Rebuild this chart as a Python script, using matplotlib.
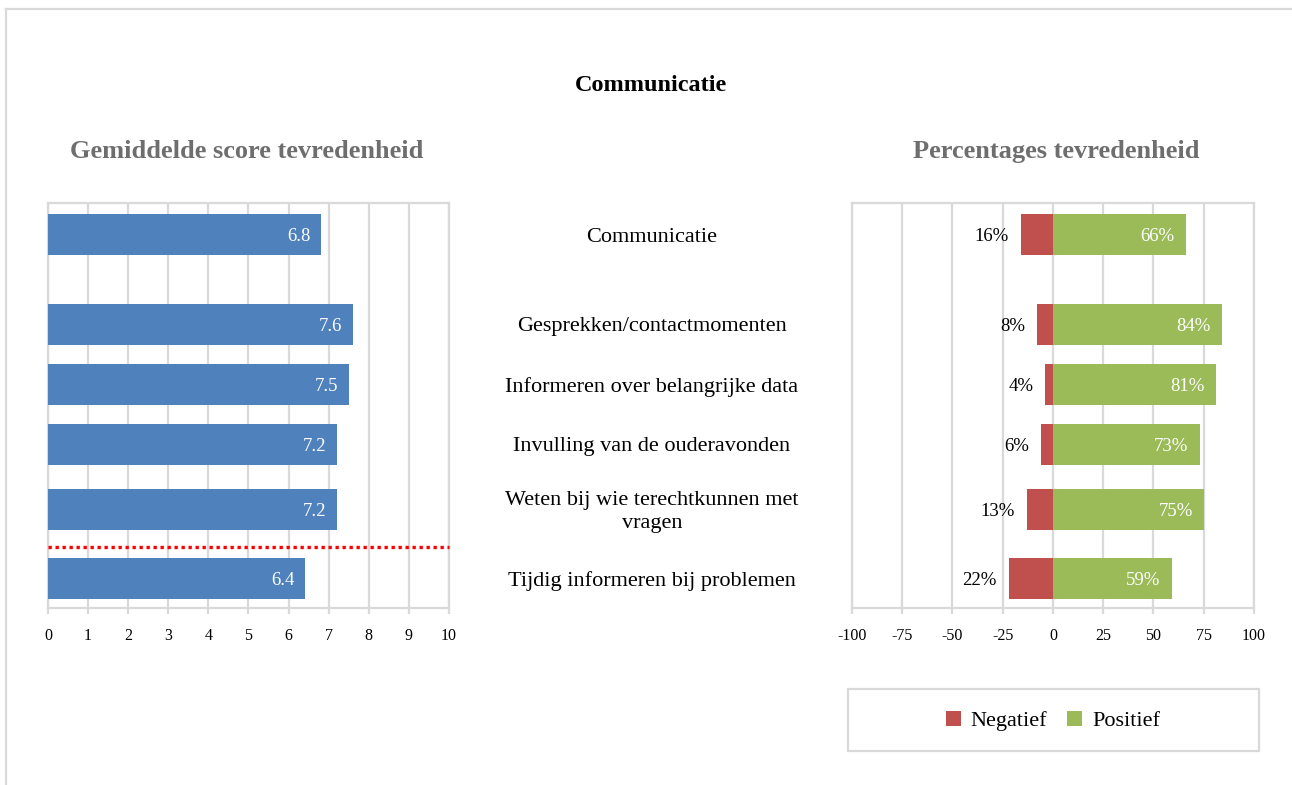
import numpy as np
import matplotlib
matplotlib.use('Agg')
import matplotlib.pyplot as plt
import matplotlib.transforms as mtransforms
from matplotlib.patches import Patch, Rectangle
from matplotlib.lines import Line2D

plt.rcParams['font.family'] = ['Liberation Serif', 'DejaVu Serif']
plt.rcParams['axes.unicode_minus'] = False

# data
items = ['Communicatie',
         'Gesprekken/contactmomenten',
         'Informeren over belangrijke data',
         'Invulling van de ouderavonden',
         'Weten bij wie terechtkunnen met\nvragen',
         'Tijdig informeren bij problemen']
scores = [6.8, 7.6, 7.5, 7.2, 7.2, 6.4]
negatief = [16, 8, 4, 6, 13, 22]
positief = [66, 84, 81, 73, 75, 59]
score_ticks = list(range(0, 11))
pct_ticks = [-100, -75, -50, -25, 0, 25, 50, 75, 100]

# layout (rows in pixel units from the top of the figure)
W, H = 1292, 785
row_y = [234.5, 324.5, 384.5, 444.5, 509.5, 578.5]
bar_h = 41
ax_top, ax_bot = 203, 608
sep_y = 546.7

blue = '#4f81bd'
red = '#c0504d'
green = '#9bbb59'
grid_c = '#d9d9d9'
sub_c = '#6e6e6e'

fig = plt.figure(figsize=(W / 100, H / 100), dpi=100)
fig.patch.set_facecolor('white')


def frac_x(px):
    return px / W


def frac_y(py):
    return 1 - py / H


ax1 = fig.add_axes([frac_x(48), frac_y(ax_bot), frac_x(449 - 48), (ax_bot - ax_top) / H])
ax2 = fig.add_axes([frac_x(852), frac_y(ax_bot), frac_x(1254 - 852), (ax_bot - ax_top) / H])

for ax in (ax1, ax2):
    ax.set_ylim(ax_bot, ax_top)
    ax.set_yticks([])
    ax.grid(True, axis='x', color=grid_c, linewidth=1.6)
    ax.set_axisbelow(True)
    for s in ax.spines.values():
        s.set_color(grid_c)
        s.set_linewidth(1.6)
    ax.tick_params(axis='x', length=4.5, width=1.6, color=grid_c, pad=10,
                   labelsize=11.5, labelcolor='#000000')

# left: average score
ax1.barh(row_y, scores, height=bar_h, color=blue, zorder=3)
ax1.set_xlim(0, 10)
ax1.set_xticks(score_ticks)
for y, v in zip(row_y, scores):
    ax1.annotate(f'{v:.1f}', (v, y), xytext=(-7.5, -1.2), textcoords='offset points',
                 ha='right', va='center', color='white', fontsize=13.5, zorder=4)
ax1.plot([0, 10], [sep_y, sep_y], color='#ff0000', linewidth=2.4,
         linestyle=(0, (1, 1.1)), solid_capstyle='butt', zorder=4, clip_on=False)

# right: percentages
neg_vals = [-v for v in negatief]
ax2.barh(row_y, neg_vals, height=bar_h, color=red, zorder=3)
ax2.barh(row_y, positief, height=bar_h, color=green, zorder=3)
ax2.set_xlim(-100, 100)
ax2.set_xticks(pct_ticks)
for y, n, p in zip(row_y, negatief, positief):
    ax2.annotate(f'{n}%', (-n, y), xytext=(-8.5, -1.2), textcoords='offset points',
                 ha='right', va='center', color='black', fontsize=13.5, zorder=4)
    ax2.annotate(f'{p}%', (p, y), xytext=(-8, -1.2), textcoords='offset points',
                 ha='right', va='center', color='white', fontsize=13.5, zorder=4)

# category labels in the middle
trans = mtransforms.blended_transform_factory(fig.transFigure, ax1.transData)
for y, lab in zip(row_y, items):
    fig.text(frac_x(652), y + 2.5, lab, transform=trans, ha='center', va='center',
             fontsize=16, linespacing=1.3)

# titles
fig.text(frac_x(651), frac_y(91), 'Communicatie', ha='center', va='baseline',
         fontsize=17.5, fontweight='bold')
fig.text(frac_x(247), frac_y(158), 'Gemiddelde score tevredenheid', ha='center',
         va='baseline', fontsize=19, fontweight='bold', color=sub_c)
fig.text(frac_x(1056), frac_y(158), 'Percentages tevredenheid', ha='center',
         va='baseline', fontsize=19, fontweight='bold', color=sub_c)

# legend with its own box
fig.add_artist(Rectangle((frac_x(848), frac_y(751)), frac_x(1259 - 848), (751 - 689) / H,
                         transform=fig.transFigure, facecolor='white',
                         edgecolor=grid_c, linewidth=1.6))
handles = [Patch(facecolor=red, label='Negatief'), Patch(facecolor=green, label='Positief')]
fig.legend(handles=handles, loc='center', bbox_to_anchor=(frac_x(1053), frac_y(721)),
           ncol=2, frameon=False, fontsize=16, handlelength=0.68, handleheight=0.68,
           handletextpad=0.45, columnspacing=0.9)

# outer frame (top and left only)
fig.add_artist(Line2D([frac_x(6), 1], [frac_y(9), frac_y(9)], color=grid_c, linewidth=1.6))
fig.add_artist(Line2D([frac_x(6), frac_x(6)], [0, frac_y(9)], color=grid_c, linewidth=1.6))

fig.savefig('out.png', dpi=100, facecolor='white')
